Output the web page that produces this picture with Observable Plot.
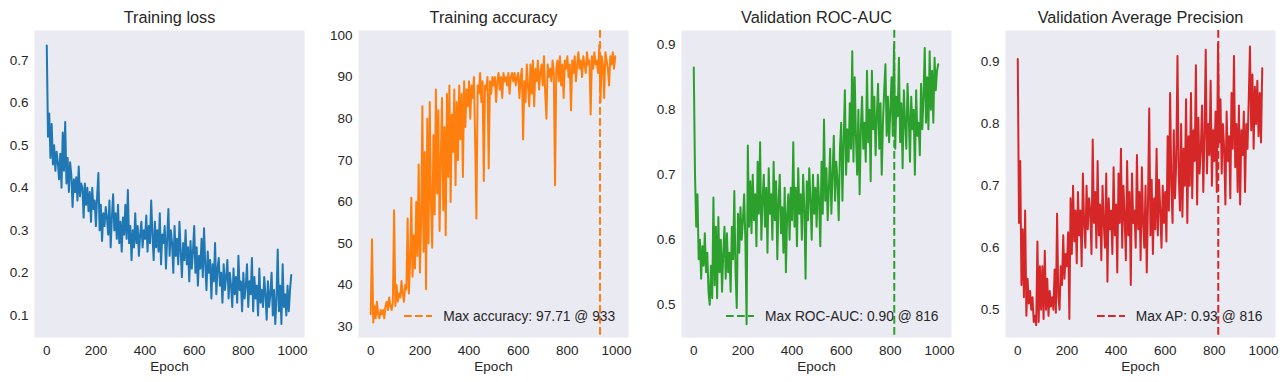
<!DOCTYPE html>
<html><head><meta charset="utf-8">
<script src="https://cdn.jsdelivr.net/npm/d3@7"></script>
<script src="https://cdn.jsdelivr.net/npm/@observablehq/plot@0.6"></script>
<style>
body{margin:0;background:#fff;}
#wrap{position:relative;width:1287px;height:382px;overflow:hidden;font-family:"Liberation Sans",Arial,sans-serif;}
.panel{position:absolute;top:0;}
.legend{position:absolute;display:flex;align-items:center;height:20px;font-size:13.8px;color:#262626;white-space:nowrap;font-family:"Liberation Sans",Arial,sans-serif;}
.legend svg{margin-right:11px;}
</style></head><body><div id="wrap"></div>
<script>
// Epochs sampled every 5 epochs (0..995)
const epochs = d3.range(0, 1000, 5);
const xTicks = [0, 200, 400, 600, 800, 1000];

const lossValues = [
0.735,0.52,0.575,0.47,0.55,0.455,0.50,0.44,0.485,0.46,
0.42,0.48,0.40,0.53,0.44,0.555,0.41,0.47,0.39,0.46,
0.43,0.355,0.42,0.39,0.425,0.37,0.45,0.38,0.41,0.40,
0.33,0.41,0.36,0.40,0.345,0.39,0.32,0.40,0.35,0.37,
0.31,0.38,0.435,0.30,0.36,0.275,0.34,0.31,0.355,0.33,
0.29,0.37,0.26,0.33,0.385,0.30,0.34,0.28,0.36,0.27,
0.32,0.25,0.33,0.29,0.36,0.28,0.395,0.27,0.31,0.23,
0.30,0.26,0.34,0.27,0.31,0.24,0.29,0.32,0.26,0.30,
0.28,0.335,0.25,0.31,0.27,0.37,0.29,0.23,0.32,0.26,
0.30,0.25,0.34,0.22,0.29,0.27,0.31,0.21,0.28,0.35,
0.24,0.30,0.27,0.20,0.31,0.24,0.28,0.22,0.32,0.25,
0.19,0.27,0.23,0.30,0.22,0.26,0.18,0.275,0.21,0.25,
0.31,0.20,0.26,0.17,0.24,0.21,0.28,0.19,0.305,0.22,
0.16,0.25,0.20,0.23,0.14,0.22,0.18,0.27,0.15,0.21,
0.235,0.17,0.20,0.13,0.22,0.16,0.19,0.23,0.14,0.20,
0.17,0.12,0.21,0.15,0.19,0.13,0.24,0.16,0.18,0.11,
0.20,0.14,0.17,0.22,0.12,0.18,0.15,0.235,0.11,0.19,
0.14,0.17,0.10,0.21,0.13,0.16,0.12,0.19,0.15,0.09,
0.18,0.12,0.15,0.20,0.10,0.16,0.08,0.14,0.255,0.11,
0.17,0.08,0.22,0.12,0.15,0.10,0.17,0.11,0.16,0.195
];

const accuracyValues = [
33,51,31,35,32,36,33,32,34,33,
34,32,35,36,34,37,35,34,36,58,
35,40,36,38,37,41,38,36,40,39,
56,38,45,61,42,52,44,60,47,69,
43,55,83,48,72,39,80,50,84,60,
49,76,57,87,62,82,53,70,85,58,
78,52,86,66,88,60,81,72,87,64,
84,70,88,75,86,66,89,78,87,83,
89,80,88,85,90,74,56,88,86,91,
84,89,65,88,87,90,68,89,86,90,
88,90,84,89,91,87,90,85,91,89,
90,88,91,86,90,91,89,91,88,90,
91,85,90,92,75,89,84,93,88,83,
93,86,94,83,92,89,94,87,91,93,
88,95,86,80,93,90,92,89,94,91,
64,92,94,89,95,88,93,85,94,92,
95,90,93,82,94,91,95,89,93,96,
92,94,90,95,93,91,96,93,94,81,
95,92,96,93,94,91,97.7,84,95,93,
85,96,94,92,88,95,93,96,92,95
];

const rocAucValues = [
0.865,0.70,0.62,0.67,0.57,0.60,0.54,0.59,0.56,0.61,
0.55,0.58,0.52,0.50,0.56,0.51,0.665,0.53,0.62,0.51,
0.635,0.55,0.60,0.52,0.58,0.62,0.54,0.61,0.55,0.58,
0.52,0.62,0.57,0.675,0.55,0.495,0.64,0.58,0.65,0.60,
0.63,0.67,0.60,0.47,0.745,0.62,0.69,0.61,0.70,0.63,
0.67,0.59,0.72,0.64,0.75,0.60,0.66,0.70,0.62,0.68,
0.58,0.71,0.64,0.67,0.60,0.72,0.63,0.69,0.57,0.66,
0.70,0.61,0.65,0.58,0.68,0.55,0.64,0.67,0.60,0.68,
0.63,0.75,0.62,0.68,0.59,0.71,0.64,0.67,0.60,0.70,
0.65,0.54,0.69,0.63,0.71,0.66,0.60,0.70,0.64,0.68,
0.62,0.70,0.66,0.59,0.72,0.64,0.785,0.66,0.71,0.63,
0.68,0.74,0.64,0.70,0.76,0.66,0.72,0.69,0.63,0.74,
0.78,0.66,0.75,0.83,0.70,0.77,0.72,0.81,0.74,0.89,
0.72,0.85,0.76,0.70,0.80,0.67,0.77,0.82,0.74,0.78,
0.72,0.86,0.75,0.80,0.69,0.86,0.77,0.82,0.73,0.79,
0.84,0.74,0.81,0.70,0.78,0.83,0.87,0.76,0.82,0.75,
0.80,0.85,0.76,0.90,0.74,0.82,0.79,0.88,0.75,0.81,
0.71,0.83,0.78,0.74,0.84,0.79,0.72,0.82,0.77,0.80,
0.70,0.83,0.76,0.78,0.73,0.84,0.77,0.82,0.895,0.78,
0.85,0.77,0.89,0.80,0.86,0.78,0.88,0.83,0.86,0.87
];

const apValues = [
0.905,0.64,0.74,0.54,0.63,0.52,0.66,0.49,0.55,0.51,
0.53,0.50,0.52,0.48,0.49,0.475,0.61,0.48,0.57,0.50,
0.57,0.485,0.595,0.50,0.55,0.49,0.53,0.505,0.52,0.50,
0.565,0.495,0.655,0.52,0.50,0.57,0.54,0.62,0.55,0.59,
0.57,0.625,0.485,0.68,0.59,0.70,0.61,0.66,0.575,0.69,
0.62,0.66,0.57,0.72,0.64,0.60,0.70,0.63,0.68,0.66,
0.59,0.775,0.64,0.69,0.60,0.74,0.62,0.67,0.58,0.70,
0.64,0.60,0.72,0.545,0.68,0.63,0.66,0.59,0.73,0.62,
0.67,0.56,0.72,0.64,0.76,0.60,0.70,0.65,0.58,0.74,
0.62,0.69,0.54,0.72,0.64,0.66,0.60,0.75,0.63,0.69,
0.58,0.73,0.64,0.60,0.70,0.56,0.67,0.825,0.62,0.71,
0.59,0.68,0.63,0.76,0.62,0.71,0.66,0.60,0.70,0.64,
0.69,0.61,0.78,0.66,0.85,0.70,0.64,0.79,0.68,0.74,
0.91,0.72,0.66,0.80,0.65,0.76,0.70,0.84,0.64,0.78,
0.70,0.85,0.68,0.79,0.74,0.895,0.67,0.81,0.72,0.76,
0.83,0.69,0.78,0.92,0.72,0.80,0.75,0.87,0.70,0.79,
0.74,0.82,0.69,0.93,0.77,0.84,0.72,0.80,0.76,0.67,
0.82,0.74,0.78,0.68,0.85,0.76,0.91,0.73,0.80,0.69,
0.83,0.67,0.79,0.75,0.82,0.69,0.80,0.76,0.84,0.925,
0.79,0.88,0.76,0.86,0.80,0.87,0.78,0.85,0.77,0.89
];

const titles = ["Training loss", "Training accuracy", "Validation ROC-AUC", "Validation Average Precision"];
const lossTicks = [0.1, 0.2, 0.3, 0.4, 0.5, 0.6, 0.7];
const accuracyTicks = [30, 40, 50, 60, 70, 80, 90, 100];
const rocTicks = [0.5, 0.6, 0.7, 0.8, 0.9];
const apTicks = [0.5, 0.6, 0.7, 0.8, 0.9];
const bestEpochs = [null, 933, 816, 816];
const legendLabels = [null, "Max accuracy: 97.71 @ 933", "Max ROC-AUC: 0.90 @ 816", "Max AP: 0.93 @ 816"];
const colors = ["#1f77b4", "#ff7f0e", "#2ca02c", "#d62728"];

const panels = [
  {values: lossValues, ticks: lossTicks, domain: [0.048, 0.770], fmt: d3.format(".1f"), left: 34},
  {values: accuracyValues, ticks: accuracyTicks, domain: [27.4, 101.2], fmt: d3.format("d"), left: 357.7},
  {values: rocAucValues, ticks: rocTicks, domain: [0.4497, 0.922], fmt: d3.format(".1f"), left: 681},
  {values: apValues, ticks: apTicks, domain: [0.455, 0.951], fmt: d3.format(".1f"), left: 1005}
];

const wrap = document.getElementById("wrap");
const textColor = "#262626";
const mLeft = 40, mRight = 10, plotW = 270;

panels.forEach((p, i) => {
  const rows = epochs.map((e, j) => ({epoch: e, value: p.values[j]}));
  const color = colors[i];
  const chart = Plot.plot({
    width: mLeft + plotW + mRight,
    height: 382,
    marginTop: 30,
    marginBottom: 45,
    marginLeft: mLeft,
    marginRight: mRight,
    style: {fontFamily: '"Liberation Sans", Arial, sans-serif', fontSize: "13.5px", color: textColor, background: "transparent", overflow: "visible"},
    x: {domain: [-49.95, 1048.95], ticks: xTicks, tickSize: 0, tickPadding: 8, tickFormat: d3.format("d"), label: null},
    y: {domain: p.domain, ticks: p.ticks, tickSize: 0, tickPadding: 6, tickFormat: p.fmt, label: null},
    marks: [
      Plot.frame({fill: "#eaeaf2", stroke: "none"}),
      Plot.line(rows, {x: "epoch", y: "value", stroke: color, strokeWidth: 2}),
      bestEpochs[i] != null ? Plot.ruleX([bestEpochs[i]], {stroke: color, strokeWidth: 2, strokeDasharray: "7.7 3.3"}) : null,
      Plot.text([titles[i]], {text: d => d, frameAnchor: "top", dy: -8, lineAnchor: "bottom", fontSize: 16.3, fill: textColor}),
      Plot.text(["Epoch"], {text: d => d, frameAnchor: "bottom", dy: 24, lineAnchor: "top", fontSize: 13.5, fill: textColor})
    ]
  });
  chart.classList.add("panel");
  chart.style.left = (p.left - mLeft) + "px";
  wrap.appendChild(chart);

  if (legendLabels[i]) {
    const lg = document.createElement("div");
    lg.className = "legend";
    const plotRight = p.left + plotW;
    lg.style.right = (1287 - (plotRight - 12.5)) + "px";
    lg.style.top = "306px";
    lg.innerHTML = `<svg width="28" height="6"><line x1="0" y1="3" x2="28" y2="3" stroke="${color}" stroke-width="2" stroke-dasharray="7.7 3.3"/></svg><span>${legendLabels[i]}</span>`;
    wrap.appendChild(lg);
  }
});
</script>
</body></html>
